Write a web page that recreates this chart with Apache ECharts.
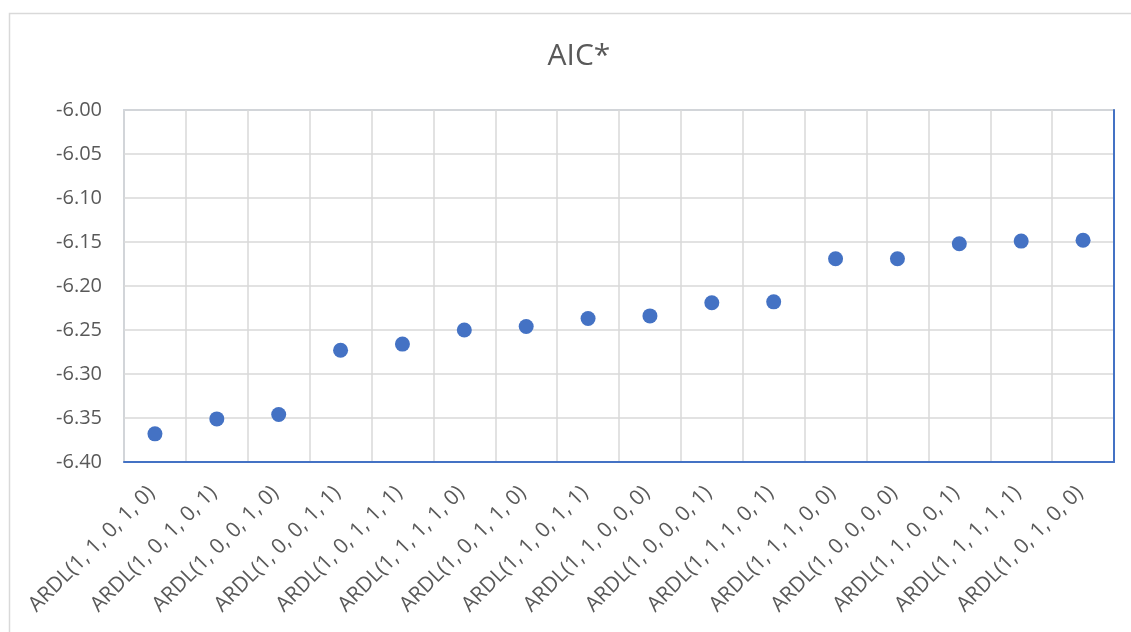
<!DOCTYPE html>
<html>
<head>
<meta charset="utf-8">
<script src="https://cdn.jsdelivr.net/npm/echarts@6/dist/echarts.min.js"></script>
<style>html,body{margin:0;padding:0;background:#fff;}#c{width:1131px;height:632px;}</style>
</head>
<body>
<div id="c"></div>
<script>
const categories = [
  'ARDL(1, 1, 0, 1, 0)','ARDL(1, 0, 1, 0, 1)','ARDL(1, 0, 0, 1, 0)','ARDL(1, 0, 0, 1, 1)',
  'ARDL(1, 0, 1, 1, 1)','ARDL(1, 1, 1, 1, 0)','ARDL(1, 0, 1, 1, 0)','ARDL(1, 1, 0, 1, 1)',
  'ARDL(1, 1, 0, 0, 0)','ARDL(1, 0, 0, 0, 1)','ARDL(1, 1, 1, 0, 1)','ARDL(1, 1, 1, 0, 0)',
  'ARDL(1, 0, 0, 0, 0)','ARDL(1, 1, 0, 0, 1)','ARDL(1, 1, 1, 1, 1)','ARDL(1, 0, 1, 0, 0)'
];
const aicValues = [-6.368,-6.351,-6.346,-6.273,-6.266,-6.250,-6.246,-6.237,-6.234,-6.219,-6.218,-6.169,-6.169,-6.152,-6.149,-6.148];
const yMin = -6.40, yMax = -6.00, yInterval = 0.05;
const title = 'AIC*';

const chart = echarts.init(document.getElementById('c'), null, {renderer:'canvas'});
const font = 'Open Sans';
chart.setOption({
  animation: false,
  backgroundColor: '#fff',
  title: {
    text: title, left: 574, top: 36, textAlign: 'center',
    textStyle: {fontFamily: font, fontSize: 30, fontWeight: 'normal', color: '#595959'}
  },
  graphic: [{
    type: 'rect', left: 7, top: 11, silent: true,
    shape: {width: 1130, height: 630},
    style: {fill: 'none', stroke: '#D9D9D9', lineWidth: 1.5}
  }],
  grid: {left: 124, right: 17, top: 110, bottom: 170, show: true, borderColor: '#A9B8D0', borderWidth: 1.5},
  xAxis: {
    type: 'category', data: categories, boundaryGap: true,
    axisLine: {show: true, lineStyle: {color: '#4472C4', width: 2}},
    axisTick: {show: false},
    splitLine: {show: true, lineStyle: {color: '#D9D9D9', width: 1.5}},
    axisLabel: {interval: 0, rotate: 45, margin: 24, padding: [0, 5, 0, 0], fontFamily: font, fontSize: 21, color: '#595959'}
  },
  yAxis: [{
    type: 'value', min: yMin, max: yMax, interval: yInterval,
    axisLine: {show: false}, axisTick: {show: false},
    splitLine: {show: true, lineStyle: {color: '#D9D9D9', width: 1.5}},
    axisLabel: {margin: 22, fontFamily: font, fontSize: 20, color: '#595959', formatter: v => v.toFixed(2)}
  },{
    type: 'value', position: 'right', min: yMin, max: yMax, interval: yInterval,
    axisLine: {show: true, lineStyle: {color: '#4472C4', width: 2}},
    axisTick: {show: false}, axisLabel: {show: false}, splitLine: {show: false}
  }],
  series: [{
    type: 'scatter', data: aicValues, symbol: 'circle', symbolSize: 15,
    itemStyle: {color: '#4472C4', opacity: 1}
  }]
});
</script>
</body>
</html>
